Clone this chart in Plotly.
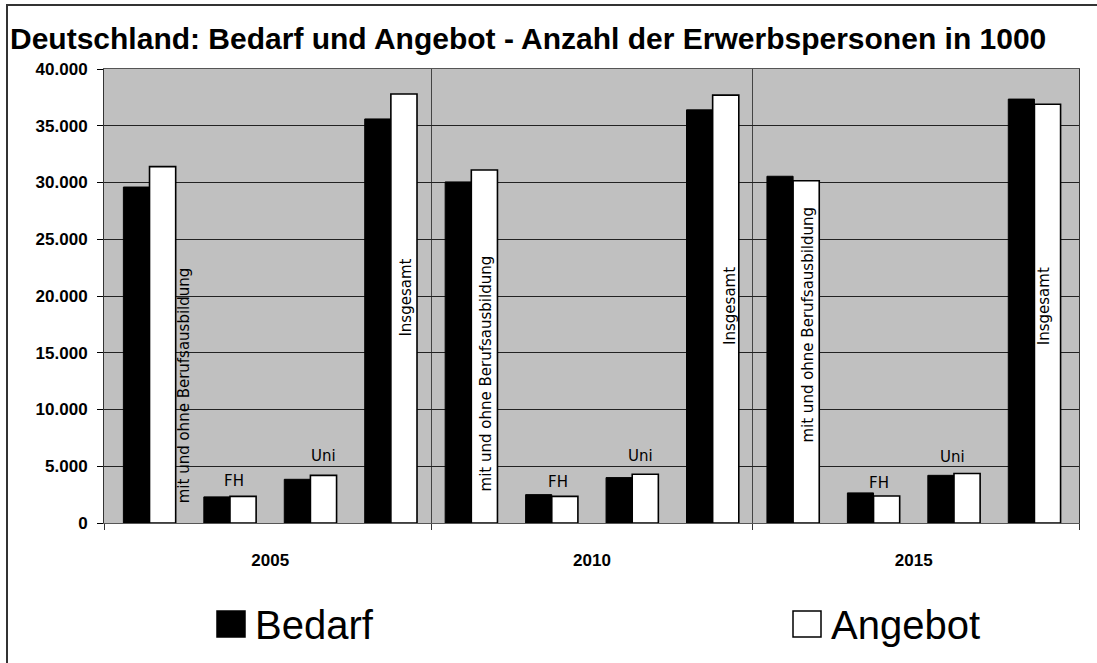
import plotly.graph_objects as go

# ---------------- data ----------------
years = ["2005", "2010", "2015"]
categories = ["mit und ohne Berufsausbildung", "FH", "Uni", "Insgesamt"]

bedarf_2005 = [29600, 2300, 3850, 35600]
bedarf_2010 = [30050, 2500, 4000, 36400]
bedarf_2015 = [30550, 2650, 4200, 37350]

angebot_2005 = [31400, 2350, 4200, 37800]
angebot_2010 = [31100, 2350, 4290, 37700]
angebot_2015 = [30150, 2380, 4360, 36900]

y_ticks = [0, 5000, 10000, 15000, 20000, 25000, 30000, 35000, 40000]

# ------------- derived -------------
bedarf = bedarf_2005 + bedarf_2010 + bedarf_2015
angebot = angebot_2005 + angebot_2010 + angebot_2015
ncat = len(categories)
xpos = [g * ncat + c for g in range(len(years)) for c in range(ncat)]
hover_cat = [f"{years[g]} – {categories[c]}" for g in range(len(years)) for c in range(ncat)]

FONT = "Liberation Sans, Arial, sans-serif"
LBL_FONT = "DejaVu Sans, sans-serif"

fig = go.Figure()
fig.add_trace(go.Bar(
    name="Bedarf", x=xpos, y=bedarf, customdata=hover_cat,
    marker=dict(color="#000000", line=dict(color="#000000", width=1)),
    hovertemplate="%{customdata}<br>Bedarf: %{y:,d}<extra></extra>",
    showlegend=False,
))
fig.add_trace(go.Bar(
    name="Angebot", x=xpos, y=angebot, customdata=hover_cat,
    marker=dict(color="#FFFFFF", line=dict(color="#000000", width=1.6)),
    hovertemplate="%{customdata}<br>Angebot: %{y:,d}<extra></extra>",
    showlegend=False,
))

# ------------- category labels (placement only) -------------
half_bar = 0.1625
annotations = []
rot_place = {
    0: [(0.267, 12140), (0.019, 13170), (0.025, 17500)],
    3: [(0.031, 19900), (0.062, 19100), (-0.044, 19100)],
}
for c, places in rot_place.items():
    for g, (dx, yc) in enumerate(places):
        annotations.append(dict(
            x=g * ncat + c + half_bar + dx, y=yc, xref="x", yref="y",
            text=categories[c], textangle=-90, showarrow=False,
            font=dict(family=LBL_FONT, size=15, color="#000000"),
        ))
flat_place = {
    1: [(0.056, 3700), (0.075, 3590), (0.068, 3500)],
    2: [(0.168, 5880), (0.106, 5880), (-0.019, 5790)],
}
for c, places in flat_place.items():
    for g, (dx, yc) in enumerate(places):
        annotations.append(dict(
            x=g * ncat + c + dx, y=yc, xref="x", yref="y",
            text=categories[c], showarrow=False,
            font=dict(family=LBL_FONT, size=15, color="#000000"),
        ))

W, H = 1097, 663
ML, MR, MT, MB = 104, 18, 69, 140
pw, ph = W - ML - MR, H - MT - MB


def px_x(px):
    return (px - ML) / pw


def px_y(py):
    return 1 - (py - MT) / ph


# ------------- legend drawn Excel style (swatch + text) -------------
legend_items = [("Bedarf", "#000000", 217), ("Angebot", "#FFFFFF", 793)]
shapes = []
for name, col, lx in legend_items:
    shapes.append(dict(type="rect", xref="paper", yref="paper",
                       x0=px_x(lx), x1=px_x(lx + 28), y0=px_y(637), y1=px_y(611),
                       fillcolor=col, line=dict(color="#000000", width=1.5)))
    annotations.append(dict(
        x=px_x(lx + 36), y=px_y(625), xref="paper", yref="paper", text=name,
        showarrow=False, xanchor="left", yanchor="middle",
        font=dict(family=FONT, size=40, color="#000000"),
    ))

# outer chart frame
shapes.append(dict(type="rect", xref="paper", yref="paper",
                   x0=px_x(7), y0=px_y(700), x1=px_x(1120), y1=px_y(5),
                   line=dict(color="#333333", width=2), layer="below"))

x_lo, x_hi = -0.566, 11.554

fig.update_layout(
    width=W, height=H,
    margin=dict(l=ML, r=MR, t=MT, b=MB),
    paper_bgcolor="#FFFFFF",
    plot_bgcolor="#C0C0C0",
    separators=",.",
    barmode="group",
    bargap=0.35,
    bargroupgap=0,
    title=dict(
        text="Deutschland: Bedarf und Angebot - Anzahl der Erwerbspersonen in 1000",
        x=10 / W, xanchor="left", y=1 - 38 / H, yanchor="middle",
        font=dict(family=FONT, size=30, color="#000000", weight="bold"),
    ),
    annotations=annotations,
    shapes=shapes,
    xaxis=dict(
        range=[x_lo, x_hi],
        tickmode="array",
        tickvals=[g * ncat + (ncat - 1) / 2 for g in range(len(years))],
        ticktext=years,
        ticks="outside", ticklen=22, tickcolor="rgba(0,0,0,0)",
        tickfont=dict(family=FONT, size=17, color="#000000", weight="bold"),
        showgrid=False, zeroline=False,
        showline=True, linecolor="#555555", linewidth=1, mirror=True,
        minor=dict(
            tickmode="array",
            tickvals=[x_lo, 3.5, 7.5, x_hi],
            ticks="outside", ticklen=6, tickcolor="#333333", tickwidth=1,
            showgrid=True, gridcolor="#444444", gridwidth=1,
        ),
        fixedrange=True,
    ),
    yaxis=dict(
        range=[0, 40000],
        tickmode="array", tickvals=y_ticks, tickformat=",d",
        ticks="outside", ticklen=6, tickcolor="#000000", ticklabelstandoff=6,
        tickfont=dict(family=FONT, size=17, color="#000000", weight="bold"),
        showgrid=True, gridcolor="#222222", gridwidth=1,
        zeroline=False,
        showline=True, linecolor="#333333", linewidth=1, mirror=True,
        fixedrange=True,
    ),
)

fig.write_html(
    "out.html",
    config={"displayModeBar": False},
    post_script="document.body.style.margin='0px';document.body.style.overflow='hidden';",
)
